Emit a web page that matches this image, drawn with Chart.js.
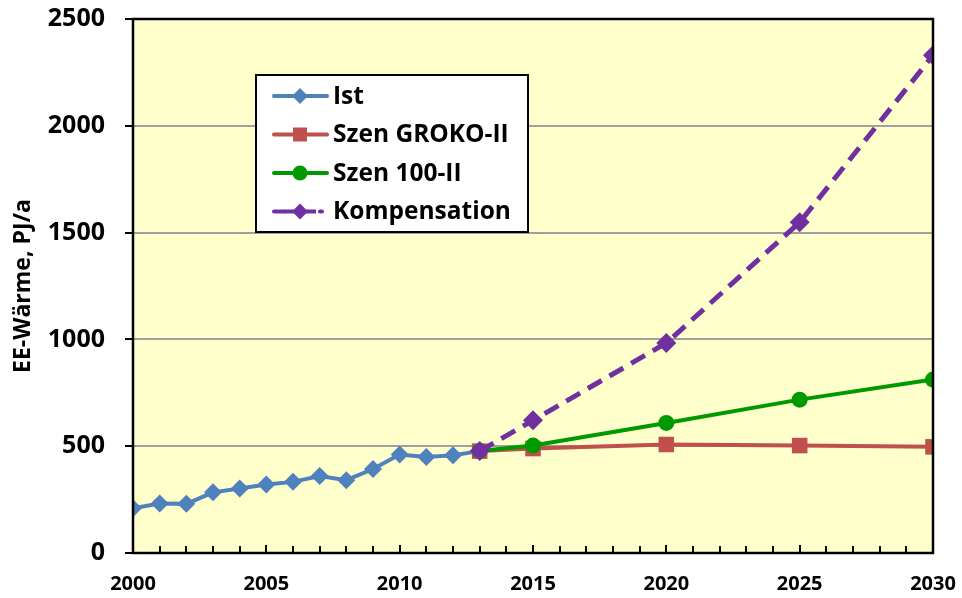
<!DOCTYPE html>
<html>
<head>
<meta charset="utf-8">
<script src="https://cdn.jsdelivr.net/npm/chart.js@4.4.1/dist/chart.umd.min.js"></script>
<style>
  html,body{margin:0;padding:0;background:#fff;}
  #wrap{width:962px;height:598px;position:relative;}
</style>
</head>
<body>
<div id="wrap"><canvas id="c" width="962" height="598"></canvas></div>
<script>
// values
const istYears = [2000,2001,2002,2003,2004,2005,2006,2007,2008,2009,2010,2011,2012,2013];
const istVals  = [209,232,230,284,302,321,333,360,341,393,461,450,458,477];
const szenYears = [2013,2015,2020,2025,2030];
const grokoVals = [477,489,508,503,497];
const s100Vals  = [477,503,609,718,812];
const kompVals  = [477,621,983,1548,2330];
const yTicks = [0,500,1000,1500,2000,2500];
const xLabels = [2000,2005,2010,2015,2020,2025,2030];

const FONT = '"Open Sans", "Liberation Sans", sans-serif';
const pts = (xs, ys) => xs.map((x,i)=>({x, y:ys[i]}));

const datasets = [
  {label:'Ist', data:pts(istYears,istVals), borderColor:'#4F81BD', backgroundColor:'#4F81BD',
   pointStyle:'rectRot', pointRadius:9, borderWidth:4, order:3},
  {label:'Szen GROKO-II', data:pts(szenYears,grokoVals), borderColor:'#C0504D', backgroundColor:'#C0504D',
   pointStyle:'rect', pointRadius:11, borderWidth:4, order:2},
  {label:'Szen 100-II', data:pts(szenYears,s100Vals), borderColor:'#009900', backgroundColor:'#009900',
   pointStyle:'circle', pointRadius:8, borderWidth:4, order:1},
  {label:'Kompensation', data:pts(szenYears,kompVals), borderColor:'#7030A0', backgroundColor:'#7030A0',
   pointStyle:'rectRot', pointRadius:10, borderWidth:5, borderDash:[16,9], order:0},
];
datasets.forEach(d=>{ d.pointBorderWidth=0; d.pointHoverRadius=d.pointRadius; d.tension=0; });

// background, border, inward x ticks
const frame = {
  id:'frame',
  beforeDraw(chart){
    const {ctx, chartArea:a} = chart;
    ctx.save();
    ctx.fillStyle = '#FFFFCC';
    ctx.fillRect(a.left, a.top, a.right-a.left, a.bottom-a.top);
    ctx.restore();
  },
  afterDatasetsDraw(chart){
    const {ctx, chartArea:a, scales} = chart;
    ctx.save();
    ctx.strokeStyle = '#000';
    ctx.lineWidth = 2;
    ctx.beginPath();
    for(let yr=2001; yr<2030; yr++){
      const x = Math.round(scales.x.getPixelForValue(yr));
      const len = yr%5===0 ? 8 : 7;
      ctx.moveTo(x, a.bottom); ctx.lineTo(x, a.bottom-len);
    }
    ctx.stroke();
    ctx.lineWidth = 2.5;
    ctx.strokeRect(a.left, a.top, a.right-a.left, a.bottom-a.top);
    ctx.restore();
  }
};

// legend box inside the plot
const boxLegend = {
  id:'boxLegend',
  afterDraw(chart){
    const ctx = chart.ctx;
    const x0=256, y0=75, w=272, h=157;
    ctx.save();
    ctx.fillStyle='#fff';
    ctx.fillRect(x0,y0,w,h);
    ctx.strokeStyle='#000'; ctx.lineWidth=2;
    ctx.strokeRect(x0,y0,w,h);
    [0,1,2,3].forEach((i,k)=>{
      const ds = chart.data.datasets[i];
      const y = 96 + k*38.5;
      ctx.strokeStyle = ds.borderColor;
      ctx.lineWidth = 4;
      ctx.lineCap = 'round';
      if(ds.borderDash){
        ctx.beginPath(); ctx.moveTo(274,y); ctx.lineTo(284,y); ctx.moveTo(320,y); ctx.lineTo(322,y); ctx.stroke();
      } else {
        ctx.beginPath(); ctx.moveTo(274,y); ctx.lineTo(327,y); ctx.stroke();
      }
      ctx.fillStyle = ds.backgroundColor;
      ctx.beginPath();
      if(ds.pointStyle==='circle'){ ctx.arc(300,y,7.5,0,Math.PI*2); }
      else if(ds.pointStyle==='rect'){ ctx.rect(293,y-7,14,14); }
      else { const r=8; ctx.moveTo(300,y-r); ctx.lineTo(300+r,y); ctx.lineTo(300,y+r); ctx.lineTo(300-r,y); ctx.closePath(); }
      ctx.fill();
      if(ds.borderDash){ ctx.fillRect(284,y-2,32,4); }
      ctx.fillStyle='#000';
      ctx.font = 'bold 24.5px '+FONT;
      ctx.textBaseline='middle';
      ctx.fillText(ds.label, 333, y+1);
    });
    ctx.restore();
  }
};

new Chart(document.getElementById('c'), {
  type:'line',
  data:{datasets},
  plugins:[frame, boxLegend],
  options:{
    responsive:false, animation:false,
    layout:{padding:{top:19, right:29, left:0, bottom:0}},
    plugins:{legend:{display:false}, tooltip:{enabled:false}},
    scales:{
      x:{
        type:'linear', min:2000, max:2030,
        afterFit(s){ s.height = 45; s.paddingLeft = 0; s.paddingRight = 0; },
        afterBuildTicks(s){ s.ticks = xLabels.map(v=>({value:v})); },
        grid:{display:false, drawTicks:false},
        border:{display:false},
        ticks:{color:'#000', padding:19, maxRotation:0, autoSkip:false, callback:v=>String(v),
               font:{family:FONT, size:20, weight:'bold'}}
      },
      y:{
        min:0, max:2500,
        afterFit(s){ s.width = 133; s.paddingTop = 0; s.paddingBottom = 0; },
        afterBuildTicks(s){ s.ticks = yTicks.map(v=>({value:v})); },
        grid:{color:'#A0A0A0', lineWidth:2, tickLength:8, tickColor:'#000', tickWidth:2},
        border:{display:false},
        ticks:{color:'#000', padding:20, callback:v=>String(v), font:{family:FONT, size:25, weight:'bold'}},
        title:{display:true, text:'EE-Wärme, PJ/a', color:'#000', padding:{top:10,bottom:0},
               font:{family:FONT, size:23, weight:'bold'}}
      }
    }
  }
});
</script>
</body>
</html>
